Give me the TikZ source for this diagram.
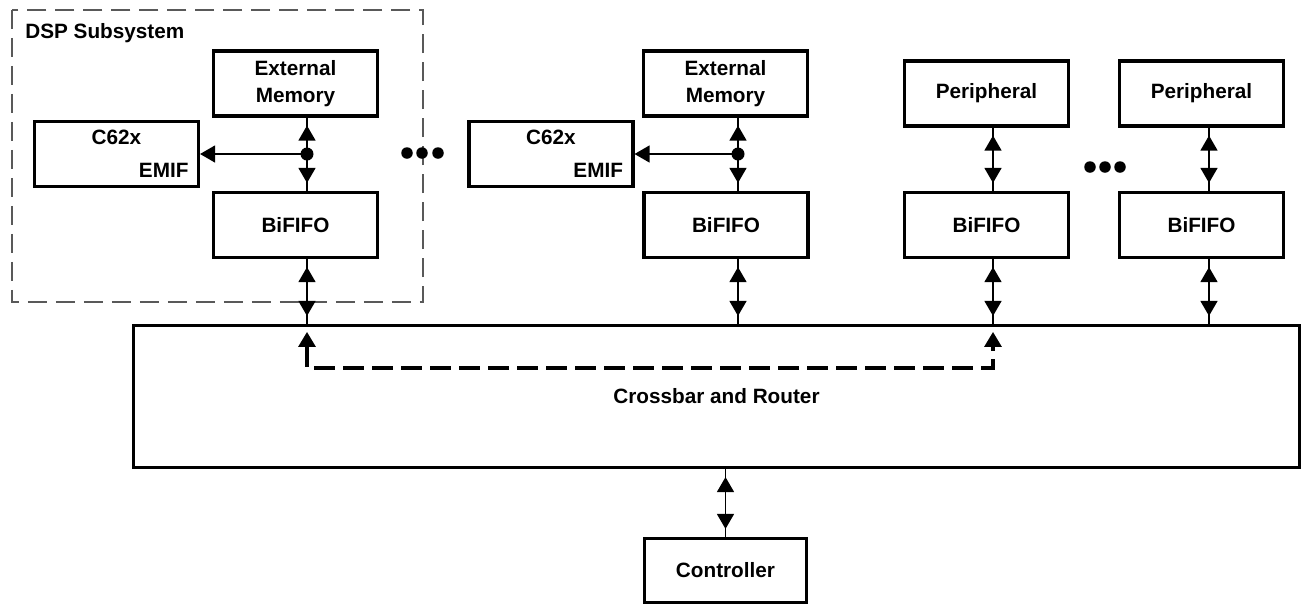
\documentclass[tikz,border=0pt]{standalone}
\usepackage{fontspec}
\setmainfont{Liberation Sans}
\usetikzlibrary{arrows.meta}
\usetikzlibrary{positioning}

\begin{document}
\begin{tikzpicture}[x=0.02cm, y=-0.02cm,
    font=\bfseries\fontsize{11.8}{15}\selectfont,
    >={Triangle[length=0.3cm, width=0.34cm]},
    box/.style={draw, line width=1.8pt, minimum width=3.28cm, minimum height=1.3cm, inner sep=0pt, align=center},
    link/.style={line width=0.8pt},
    bidir/.style={link, postaction={draw, <->, shorten <=0.16cm, shorten >=0.16cm}},
    route/.style={line width=1.8pt, dash pattern=on 0.42cm off 0.16cm, shorten <=0.16cm, shorten >=0.16cm},
    group/.style={draw=black!65, line width=0.6pt, dash pattern=on 0.38cm off 0.18cm}]
    \useasboundingbox (0,0) rectangle (1303,606);

    \draw[group] (12,10) rectangle (423,302);
    \node[anchor=base west, inner sep=0pt] (dsp) at (25,38) {DSP Subsystem};

    \node[box] (mem1) at (295.5,83.5) {External\\Memory};
    \node[box] (emif1) at (116.5,154) {\makebox[2.88cm]{C62x}\\[3.5pt]\makebox[2.88cm][r]{EMIF}};
    \node[box] (fifo1) at (295.5,225) {BiFIFO};

    \node[box] (mem2) at (725.5,83.5) {External\\Memory};
    \node[box] (emif2) at (551,154) {\makebox[2.88cm]{C62x}\\[3.5pt]\makebox[2.88cm][r]{EMIF}};
    \node[box] (fifo2) at (726,225) {BiFIFO};

    \node[box] (per1) at (986.5,93.5) {Peripheral};
    \node[box] (fifo3) at (986.5,225) {BiFIFO};
    \node[box] (per2) at (1201.5,93.5) {Peripheral};
    \node[box] (fifo4) at (1201.5,225) {BiFIFO};

    \node[box, minimum width=23.32cm, minimum height=2.84cm] (xbar) at (716.5,396.5) {Crossbar and Router};
    \node[box, minimum width=3.24cm, minimum height=1.28cm] (ctrl) at (725.5,570.5) {Controller};

    \coordinate (c1) at (307,0);
    \coordinate (c2) at (738,0);
    \coordinate (c3) at (993,0);
    \coordinate (c4) at (1209,0);
    \coordinate (j1) at (emif1.east -| c1);
    \coordinate (j2) at (emif2.east -| c2);

    \draw[bidir] (mem1.south -| c1) -- (fifo1.north -| c1);
    \draw[link, ->] (j1) -- (emif1.east);
    \fill (j1) circle (0.13cm);
    \draw[bidir] (fifo1.south -| c1) -- (xbar.north -| c1);

    \draw[bidir] (mem2.south -| c2) -- (fifo2.north -| c2);
    \draw[link, ->] (j2) -- (emif2.east);
    \fill (j2) circle (0.13cm);
    \draw[bidir] (fifo2.south -| c2) -- (xbar.north -| c2);

    \draw[bidir] (per1.south -| c3) -- (fifo3.north -| c3);
    \draw[bidir] (fifo3.south -| c3) -- (xbar.north -| c3);
    \draw[bidir] (per2.south -| c4) -- (fifo4.north -| c4);
    \draw[bidir] (fifo4.south -| c4) -- (xbar.north -| c4);

    \draw[bidir] (xbar.south -| ctrl.north) -- (ctrl.north);

    \draw[route, <->] (xbar.north -| c1) -- ++(0,44) -| (xbar.north -| c3);

    \foreach \x in {407,422,438} \fill (\x,153) circle (0.115cm);
    \foreach \x in {1090,1105,1120} \fill (\x,167) circle (0.115cm);
\end{tikzpicture}
\end{document}
